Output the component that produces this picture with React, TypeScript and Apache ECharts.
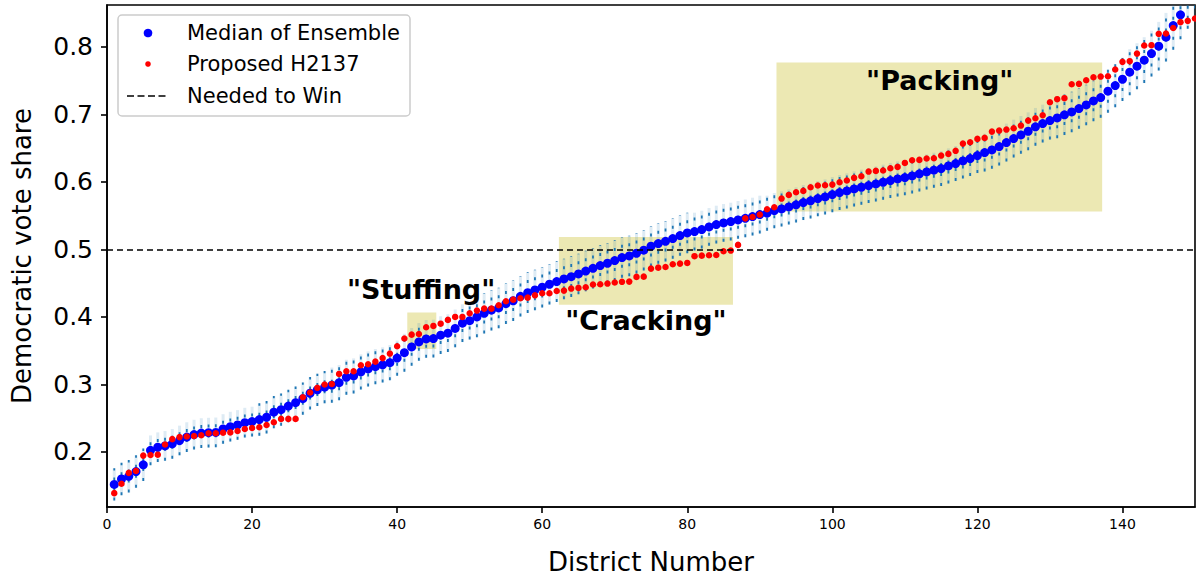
import React, { useEffect, useRef } from "react";
import * as echarts from "echarts";

const districtCount = 150;
const districts: number[] = Array.from({ length: districtCount }, (_, i) => i + 1);

const ensembleMedian: number[] = [
  0.152, 0.160, 0.164, 0.171, 0.181, 0.2025, 0.207, 0.209, 0.212, 0.217,
  0.222, 0.2257, 0.228, 0.2286, 0.229, 0.234, 0.2375, 0.240, 0.2434, 0.245,
  0.248, 0.2514, 0.259, 0.2627, 0.268, 0.273, 0.279, 0.287, 0.292, 0.296,
  0.299, 0.3027, 0.3106, 0.3126, 0.3185, 0.323, 0.3264, 0.329, 0.3323, 0.339,
  0.347, 0.3556, 0.363, 0.3674, 0.368, 0.373, 0.376, 0.383, 0.3907, 0.3945,
  0.400, 0.4054, 0.410, 0.4133, 0.4197, 0.424, 0.4306, 0.436, 0.440, 0.444,
  0.4484, 0.4523, 0.4563, 0.4597, 0.4637, 0.468, 0.472, 0.476, 0.4795, 0.4834,
  0.4879, 0.4904, 0.4943, 0.4988, 0.5047, 0.5086, 0.512, 0.516, 0.5205, 0.5244,
  0.5264, 0.5294, 0.5333, 0.5368, 0.5393, 0.5412, 0.5437, 0.546, 0.5486, 0.5516,
  0.5536, 0.5575, 0.560, 0.563, 0.566, 0.5694, 0.5719, 0.5753, 0.5778, 0.5812,
  0.5842, 0.5867, 0.5896, 0.5921, 0.5946, 0.597, 0.5995, 0.602, 0.6044, 0.6064,
  0.6089, 0.6119, 0.6148, 0.6173, 0.6198, 0.6237, 0.6272, 0.6311, 0.6346, 0.639,
  0.6434, 0.6474, 0.6523, 0.6583, 0.6642, 0.6696, 0.675, 0.6815, 0.6864, 0.6908,
  0.6948, 0.6993, 0.7037, 0.7086, 0.714, 0.72, 0.7249, 0.7343, 0.7427, 0.752,
  0.7625, 0.7714, 0.7803, 0.79, 0.801, 0.8143, 0.8316, 0.8474, 0.8627, 0.878,
];

const proposedH2137: number[] = [
  0.139, 0.153, 0.169, 0.172, 0.1946, 0.1955, 0.196, 0.211, 0.219, 0.222,
  0.223, 0.2237, 0.2247, 0.2277, 0.2277, 0.2286, 0.229, 0.231, 0.234, 0.2355,
  0.2366, 0.240, 0.244, 0.249, 0.249, 0.249, 0.281, 0.288, 0.295, 0.300,
  0.3007, 0.3156, 0.3195, 0.3195, 0.3284, 0.330, 0.3338, 0.339, 0.3457, 0.3565,
  0.368, 0.3738, 0.3748, 0.3847, 0.3867, 0.390, 0.3956, 0.400, 0.400, 0.4054,
  0.4094, 0.4123, 0.4123, 0.4173, 0.4232, 0.4256, 0.4277, 0.4286, 0.432, 0.435,
  0.435, 0.4385, 0.439, 0.442, 0.443, 0.444, 0.448, 0.4484, 0.4494, 0.451,
  0.452, 0.4523, 0.4593, 0.4597, 0.4716, 0.473, 0.474, 0.478, 0.479, 0.480,
  0.490, 0.4908, 0.4914, 0.4918, 0.4973, 0.4983, 0.5067, 0.546, 0.548, 0.5516,
  0.5595, 0.5625, 0.5753, 0.5807, 0.5847, 0.5867, 0.5921, 0.5946, 0.595, 0.596,
  0.5995, 0.602, 0.606, 0.6084, 0.6153, 0.6163, 0.6168, 0.6203, 0.6222, 0.6281,
  0.632, 0.6326, 0.6346, 0.635, 0.639, 0.6415, 0.646, 0.6567, 0.6588, 0.6637,
  0.6652, 0.6745, 0.676, 0.6775, 0.6795, 0.6834, 0.6908, 0.6943, 0.6988, 0.718,
  0.7225, 0.724, 0.7447, 0.7452, 0.7506, 0.755, 0.756, 0.7565, 0.7664, 0.7778,
  0.7788, 0.79, 0.802, 0.8025, 0.8193, 0.8197, 0.828, 0.8366, 0.8385, 0.842,
];

// half-height of the ensemble spread (dotted bars), estimated per district
const ensembleSpread: number[] = [
  0.024, 0.024, 0.024, 0.024, 0.024, 0.022, 0.022, 0.022, 0.022, 0.022,
  0.022, 0.022, 0.022, 0.022, 0.022, 0.022, 0.022, 0.022, 0.022, 0.022,
  0.024, 0.024, 0.024, 0.024, 0.024, 0.024, 0.024, 0.024, 0.024, 0.024,
  0.026, 0.026, 0.026, 0.026, 0.026, 0.026, 0.026, 0.026, 0.026, 0.026,
  0.028, 0.028, 0.028, 0.028, 0.028, 0.028, 0.028, 0.028, 0.028, 0.028,
  0.03, 0.03, 0.03, 0.03, 0.03, 0.03, 0.03, 0.03, 0.03, 0.03,
  0.03, 0.03, 0.03, 0.03, 0.03, 0.03, 0.03, 0.03, 0.03, 0.03,
  0.03, 0.03, 0.03, 0.03, 0.03, 0.03, 0.03, 0.03, 0.03, 0.03,
  0.028, 0.028, 0.028, 0.028, 0.028, 0.028, 0.028, 0.028, 0.028, 0.028,
  0.026, 0.026, 0.026, 0.026, 0.026, 0.026, 0.026, 0.026, 0.026, 0.026,
  0.026, 0.026, 0.026, 0.026, 0.026, 0.026, 0.026, 0.026, 0.026, 0.026,
  0.026, 0.026, 0.026, 0.026, 0.026, 0.026, 0.026, 0.026, 0.026, 0.026,
  0.028, 0.028, 0.028, 0.028, 0.028, 0.028, 0.028, 0.028, 0.028, 0.028,
  0.03, 0.03, 0.03, 0.03, 0.03, 0.03, 0.03, 0.032, 0.032, 0.032,
  0.034, 0.034, 0.034, 0.034, 0.036, 0.036, 0.036, 0.036, 0.036, 0.036,
];

const neededToWin = 0.5;

const xTicks: number[] = [0, 20, 40, 60, 80, 100, 120, 140];
const yTicks: number[] = [0.2, 0.3, 0.4, 0.5, 0.6, 0.7, 0.8];

const highlightBoxes = [
  { name: "Stuffing", x0: 41.4, x1: 45.4, y0: 0.3526, y1: 0.4064 },
  { name: "Cracking", x0: 62.3, x1: 86.3, y0: 0.418, y1: 0.5185 },
  { name: "Packing", x0: 92.3, x1: 137.2, y0: 0.556, y1: 0.7767 },
];

const annotations = [
  { text: '"Stuffing"', x: 43.3, y: 0.44 },
  { text: '"Cracking"', x: 74.3, y: 0.394 },
  { text: '"Packing"', x: 114.8, y: 0.7496 },
];

const legendItems = ["Median of Ensemble", "Proposed H2137", "Needed to Win"];

const FONT = '"DejaVu Sans", "Liberation Sans", sans-serif';

export default function App() {
  const ref = useRef<HTMLDivElement>(null);

  useEffect(() => {
    document.body.style.margin = "0";
    const chart = echarts.init(ref.current!, null, { renderer: "svg" });

    const spreadData = districts.map((d, i) => [
      d,
      ensembleMedian[i] - ensembleSpread[i],
      ensembleMedian[i] + ensembleSpread[i],
    ]);

    const option: any = {
      animation: false,
      grid: {
        left: 107,
        right: 1,
        top: 5,
        bottom: 75,
        show: true,
        borderColor: "#000",
        borderWidth: 1.6,
        backgroundColor: "transparent",
        containLabel: false,
        outerBoundsMode: "none",
      },
      xAxis: {
        type: "value",
        min: 0,
        max: 150,
        interval: 20,
        name: "District Number",
        nameLocation: "middle",
        nameGap: 42,
        nameTextStyle: { fontFamily: FONT, fontSize: 26, color: "#000" },
        axisLine: { show: true, onZero: false, lineStyle: { color: "#000", width: 1.6 } },
        axisTick: {
          show: true,
          inside: false,
          length: 6,
          customValues: xTicks,
          lineStyle: { color: "#000", width: 1.6 },
        },
        axisLabel: {
          fontFamily: FONT,
          fontSize: 14,
          color: "#000",
          margin: 10,
          customValues: xTicks,
        },
        splitLine: { show: false },
      },
      yAxis: {
        type: "value",
        min: 0.1185,
        max: 0.862,
        name: "Democratic vote share",
        nameLocation: "middle",
        nameGap: 72,
        nameTextStyle: { fontFamily: FONT, fontSize: 26, color: "#000" },
        axisLine: { show: true, onZero: false, lineStyle: { color: "#000", width: 1.6 } },
        axisTick: {
          show: true,
          inside: false,
          length: 6,
          customValues: yTicks,
          lineStyle: { color: "#000", width: 1.6 },
        },
        axisLabel: {
          fontFamily: FONT,
          fontSize: 25,
          color: "#000",
          margin: 14,
          customValues: yTicks,
          formatter: (v: number) => v.toFixed(1),
        },
        splitLine: { show: false },
      },
      series: [
        {
          name: "highlight",
          type: "scatter",
          data: [],
          z: 0,
          silent: true,
          markArea: {
            silent: true,
            itemStyle: { color: "#ece8b3", opacity: 1 },
            data: highlightBoxes.map((b) => [
              { xAxis: b.x0, yAxis: b.y0 },
              { xAxis: b.x1, yAxis: b.y1 },
            ]),
          },
          markLine: {
            silent: true,
            symbol: ["none", "none"],
            label: { show: false },
            lineStyle: { color: "#000", width: 1.5, type: [6, 4], opacity: 1 },
            data: [{ yAxis: neededToWin }],
          },
        },
        {
          name: "spread",
          type: "custom",
          z: 2,
          clip: true,
          silent: true,
          renderItem: (_params: any, api: any) => {
            const x = api.value(0);
            const p1 = api.coord([x, api.value(1)]);
            const p2 = api.coord([x, api.value(2)]);
            return {
              type: "group",
              children: [
                {
                  type: "line",
                  shape: { x1: p1[0], y1: p1[1], x2: p2[0], y2: p2[1] },
                  style: { stroke: "rgba(31,119,180,0.15)", lineWidth: 3 },
                },
                {
                  type: "line",
                  shape: { x1: p1[0], y1: p1[1], x2: p2[0], y2: p2[1] },
                  style: { stroke: "#1f77b4", lineWidth: 1.8, lineDash: [3, 7] },
                },
              ],
            };
          },
          data: spreadData,
        },
        {
          name: "Median of Ensemble",
          type: "scatter",
          z: 3,
          clip: true,
          symbol: "circle",
          symbolSize: 9,
          itemStyle: { color: "#0000ff", opacity: 1 },
          data: districts.map((d, i) => [d, ensembleMedian[i]]),
        },
        {
          name: "Proposed H2137",
          type: "scatter",
          z: 4,
          clip: true,
          symbol: "circle",
          symbolSize: 6.5,
          itemStyle: { color: "#ff0000", opacity: 1 },
          data: districts.map((d, i) => [d, proposedH2137[i]]),
        },
      ],
    };

    chart.setOption(option);

    const legendX = 118;
    const legendY = 15;
    const rowY = [33, 64, 96];
    const legendGraphics: any[] = [
      {
        type: "rect",
        shape: { x: legendX, y: legendY, width: 292, height: 101, r: 4 },
        style: { fill: "rgba(255,255,255,0.85)", stroke: "#cccccc", lineWidth: 1.5 },
        z: 100,
      },
      {
        type: "circle",
        shape: { cx: 148, cy: rowY[0], r: 4.3 },
        style: { fill: "#0000ff" },
        z: 101,
      },
      {
        type: "circle",
        shape: { cx: 148, cy: rowY[1], r: 2.8 },
        style: { fill: "#ff0000" },
        z: 101,
      },
      {
        type: "line",
        shape: { x1: 127, y1: rowY[2], x2: 168, y2: rowY[2] },
        style: { stroke: "#000", lineWidth: 1.5, lineDash: [7, 3.5] },
        z: 101,
      },
      ...legendItems.map((t, i) => ({
        type: "text",
        x: 187,
        y: rowY[i],
        z: 101,
        style: {
          text: t,
          fill: "#000",
          font: `21px ${FONT}`,
          textAlign: "left",
          textVerticalAlign: "middle",
        },
      })),
    ];

    const annotationGraphics = annotations.map((a) => {
      const p = chart.convertToPixel({ gridIndex: 0 }, [a.x, a.y]) as number[];
      return {
        type: "text",
        x: p[0],
        y: p[1],
        z: 50,
        style: {
          text: a.text,
          fill: "#000",
          font: `bold 27px ${FONT}`,
          textAlign: "center",
          textVerticalAlign: "middle",
        },
      };
    });

    chart.setOption({ graphic: [...legendGraphics, ...annotationGraphics] });

    return () => chart.dispose();
  }, []);

  return <div ref={ref} style={{ width: 1196, height: 582 }} />;
}
